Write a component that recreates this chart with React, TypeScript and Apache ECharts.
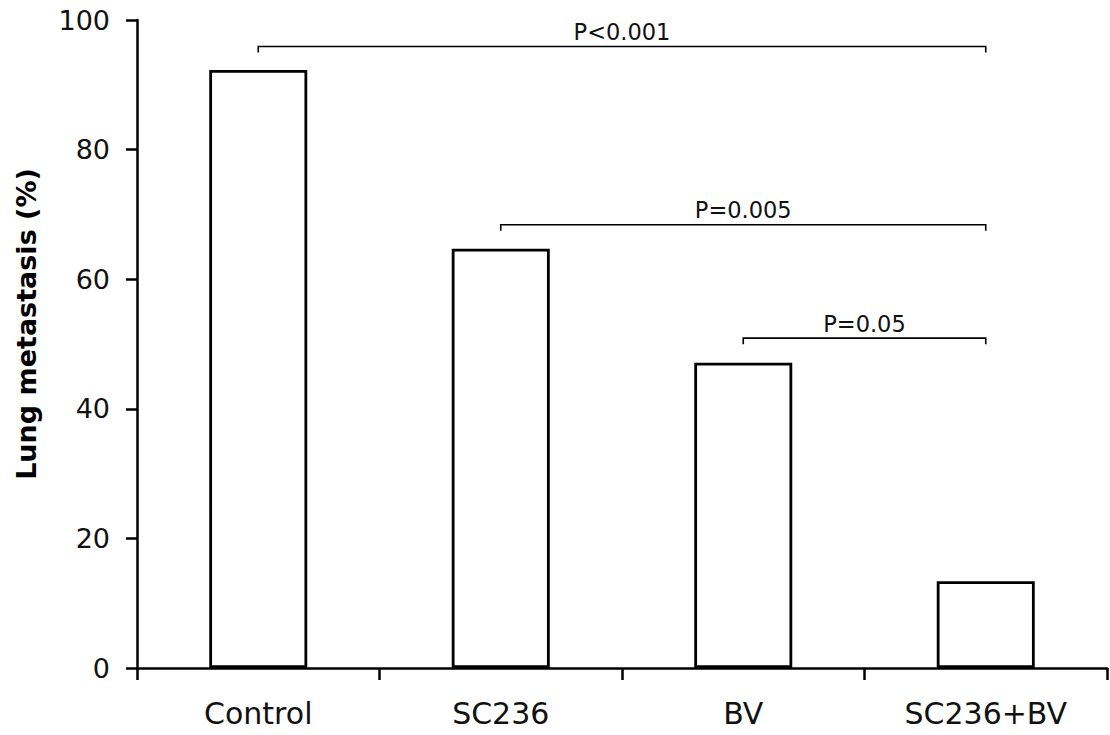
import React, { useEffect, useRef } from "react";
import * as echarts from "echarts";

const categories = ["Control", "SC236", "BV", "SC236+BV"];
const metastasis = [92.3, 64.7, 47.1, 13.4];
const yTicks = { min: 0, max: 100, interval: 20 };
const bracketFrom = [0, 1, 2];
const bracketTo = [3, 3, 3];
const bracketLevel = [95.9, 68.4, 50.9];
const bracketLabels = ["P<0.001", "P=0.005", "P=0.05"];

const FONT = "'DejaVu Sans', Verdana, sans-serif";

export default function App() {
  const ref = useRef<HTMLDivElement>(null);
  useEffect(() => {
    document.body.style.margin = "0";
    const chart = echarts.init(ref.current!, null, { renderer: "svg" });
    const bracketData = bracketFrom.map((f, i) => [f, bracketTo[i], bracketLevel[i]]);
    chart.setOption({
      animation: false,
      backgroundColor: "#ffffff",
      grid: { left: 137, right: 3, top: 20, bottom: 67, containLabel: false },
      xAxis: {
        type: "category",
        data: categories,
        boundaryGap: true,
        axisLine: { show: true, lineStyle: { color: "#000", width: 2.5 } },
        axisTick: { show: true, length: 12, inside: false, lineStyle: { color: "#000", width: 2.5 } },
        axisLabel: { color: "#111", fontFamily: FONT, fontSize: 30, margin: 30 },
        splitLine: { show: false },
      },
      yAxis: {
        type: "value",
        min: yTicks.min,
        max: yTicks.max,
        interval: yTicks.interval,
        name: "Lung metastasis (%)",
        nameLocation: "middle",
        nameGap: 97,
        nameTextStyle: { color: "#000", fontFamily: FONT, fontSize: 27, fontWeight: "bold", padding: [0, 0, 0, 40] },
        axisLine: { show: true, lineStyle: { color: "#000", width: 2.5 } },
        axisTick: { show: true, length: 11, inside: false, lineStyle: { color: "#000", width: 2.5 } },
        axisLabel: { color: "#111", fontFamily: FONT, fontSize: 27, margin: 27 },
        splitLine: { show: false },
      },
      series: [
        {
          type: "bar",
          data: metastasis,
          barWidth: 98,
          itemStyle: { color: "#fff", borderColor: "#000", borderWidth: 2.8 },
          z: 1,
        },
        {
          type: "custom",
          data: bracketData,
          clip: false,
          z: 5,
          renderItem: (params: any, api: any) => {
            const i = params.dataIndex;
            const p1 = api.coord([bracketFrom[i], bracketLevel[i]]);
            const p2 = api.coord([bracketTo[i], bracketLevel[i]]);
            const y = p1[1];
            return {
              type: "group",
              children: [
                {
                  type: "polyline",
                  shape: { points: [[p1[0], y + 6], [p1[0], y], [p2[0], y], [p2[0], y + 6]] },
                  style: { stroke: "#000", lineWidth: 1.6, fill: "none" },
                },
                {
                  type: "text",
                  style: {
                    text: bracketLabels[i],
                    x: (p1[0] + p2[0]) / 2,
                    y: y - 3,
                    align: "center",
                    verticalAlign: "bottom",
                    fontFamily: FONT,
                    fontSize: 22.5,
                    fill: "#111",
                  },
                },
              ],
            };
          },
        },
      ],
    });
    return () => chart.dispose();
  }, []);
  return <div ref={ref} style={{ position: "absolute", left: 0, top: 0, width: 1110, height: 735 }} />;
}
